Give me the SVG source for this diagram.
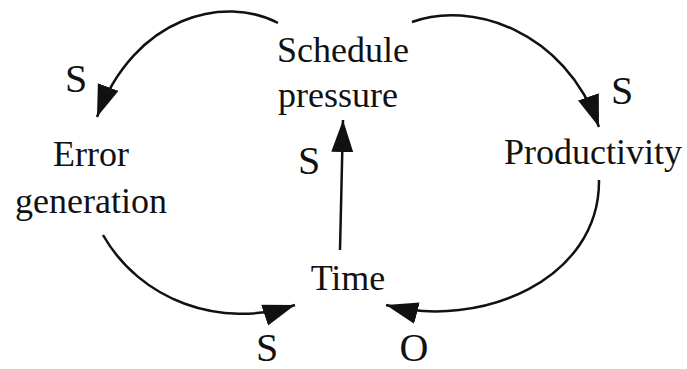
<svg xmlns="http://www.w3.org/2000/svg" width="687" height="369" viewBox="0 0 687 369">
<style>
.n{font-family:"Liberation Serif","Times New Roman",serif;font-size:36px;fill:#111;text-anchor:middle}
.l{font-family:"Liberation Serif","Times New Roman",serif;font-size:40px;fill:#111;text-anchor:middle}
.c{fill:none;stroke:#111;stroke-width:2.5;marker-end:url(#ah)}
</style>
<defs>
<marker id="ah" markerUnits="userSpaceOnUse" markerWidth="34" markerHeight="24" refX="32" refY="11" orient="auto">
<path d="M0,0 L32,11 L0,22 z" fill="#111"/>
</marker>
</defs>
<rect width="687" height="369" fill="#fff"/>
<g id="connectors">
<path class="c" d="M278,23 C225,-5 135,15 97,117"/>
<path class="c" d="M412,22 C470,0 565,30 599,127"/>
<path class="c" d="M340,250 L343,120"/>
<path class="c" d="M103,235 C140,300 220,330 295,305"/>
<path class="c" d="M599,180 C600,280 480,330 386,305"/>
</g>
<g id="schedule-pressure"><text class="n" x="343" y="62">Schedule</text><text class="n" x="338" y="107">pressure</text></g>
<g id="error-generation"><text class="n" x="91" y="166">Error</text><text class="n" x="91" y="213">generation</text></g>
<g id="productivity"><text class="n" x="593" y="164">Productivity</text></g>
<g id="time"><text class="n" x="348" y="290">Time</text></g>
<g id="labels">
<text class="l" x="76" y="92">S</text>
<text class="l" x="309" y="174">S</text>
<text class="l" x="622" y="104">S</text>
<text class="l" x="267" y="361">S</text>
<text class="l" x="414" y="361">O</text>
</g>
</svg>
